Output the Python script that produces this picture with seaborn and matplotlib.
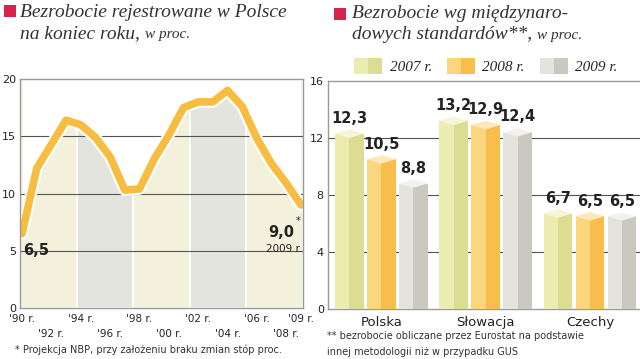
import matplotlib
matplotlib.use('Agg')  # no display
import matplotlib.pyplot as plt
import matplotlib.patheffects as pe
from matplotlib.patches import Rectangle, Polygon, Patch
from matplotlib.legend_handler import HandlerTuple
import seaborn as sns
import pandas as pd

# --- data ---
years = list(range(1990, 2010))
rate_pl = [6.5, 12.2, 14.3, 16.4, 16.0, 14.9, 13.2, 10.3, 10.4, 13.0,
           15.1, 17.5, 18.0, 18.0, 19.0, 17.6, 14.8, 12.6, 10.9, 9.0]
top_row = {1990: "'90 r.", 1994: "'94 r.", 1998: "'98 r.", 2002: "'02 r.",
           2006: "'06 r.", 2009: "'09 r."}
bottom_row = {1992: "'92 r.", 1996: "'96 r.", 2000: "'00 r.", 2004: "'04 r.",
              2008: "'08 r."}

countries = ['Polska', 'Słowacja', 'Czechy']
periods = ['2007 r.', '2008 r.', '2009 r.']
rate_2007 = [12.3, 13.2, 6.7]
rate_2008 = [10.5, 12.9, 6.5]
rate_2009 = [8.8, 12.4, 6.5]

# colours
RED = '#d6244c'
LINE = '#f7bd40'
BEIGE = '#f3f1dc'
GREY = '#e4e4df'
FACE_L = ['#ecebb0', '#fcd67e', '#e4e3dc']
FACE_R = ['#dddc93', '#f8bd4a', '#cac9c0']
FACE_T = ['#f6f5d6', '#fde9b8', '#f2f1ed']
FRAME = '#9a9a9a'
GRID = '#555555'

sns.set_style('white')
plt.rcParams['font.family'] = ['DejaVu Sans']

W, H = 640, 359
fig = plt.figure(figsize=(6.4, 3.59), dpi=100)


def fx(px):
    return px / W


def fy(px):
    return 1 - px / H


# ---------------- left chart ----------------
ax1 = fig.add_axes([fx(20), fy(308), fx(283), (308 - 79) / H])

for i in range(5):
    ax1.add_patch(Rectangle((i * 0.2, 0), 0.2, 1, transform=ax1.transAxes,
                            facecolor=BEIGE if i % 2 == 0 else GREY,
                            edgecolor='white', lw=1.2, zorder=0))
ax1.fill_between(years, rate_pl, 20, color='white', lw=0, zorder=1)
for g in (5, 10, 15):
    ax1.axhline(g, color=GRID, lw=0.8, zorder=2)

sns.lineplot(x=years, y=rate_pl, ax=ax1, color=LINE, lw=5.5, zorder=4)
ln = ax1.lines[-1]
ln.set_solid_joinstyle('round')
ln.set_solid_capstyle('round')
ln.set_path_effects([pe.Stroke(linewidth=8.5, foreground='white'), pe.Normal()])

ax1.set_xlim(1989.86, 2009.14)
ax1.set_ylim(0, 20)
ax1.set_yticks([0, 5, 10, 15, 20])
# top row of year labels on major ticks, bottom row on minor ticks
ax1.set_xticks(list(top_row.keys()))
ax1.set_xticklabels(list(top_row.values()))
ax1.set_xticks(years, minor=True)
ax1.set_xticklabels([bottom_row.get(y, '') for y in years], minor=True)
ax1.tick_params(axis='x', which='major', direction='in', length=3, width=0.6,
                color=FRAME, labelsize=7.5, labelcolor='#222222', pad=4)
ax1.tick_params(axis='x', which='minor', direction='in', length=3, width=0.6,
                color=FRAME, labelsize=7.5, labelcolor='#222222', pad=15)
ax1.tick_params(axis='y', direction='out', length=2, width=0.6, color=FRAME,
                labelsize=8, labelcolor='#222222', pad=1)
ax1.set_xlabel('')
ax1.set_ylabel('')
for s in ax1.spines.values():
    s.set_color(FRAME)
    s.set_linewidth(1)
    s.set_zorder(5)

ax1.text(1990.1, 4.65, '6,5', fontsize=10.5, fontweight='bold', color='#222222',
         ha='left', va='baseline', zorder=6)
ax1.text(2008.55, 6.2, '9,0', fontsize=10.5, fontweight='bold', color='#222222',
         ha='right', va='baseline', zorder=6)
ax1.text(2008.65, 7.3, '*', fontsize=7, color='#222222', ha='left',
         va='baseline', zorder=6)
ax1.text(2009.1, 4.9, '2009 r.', fontsize=7.5, color='#222222', ha='right',
         va='baseline', zorder=6)

# ---------------- right chart ----------------
ax2 = fig.add_axes([fx(328), fy(309), fx(312), (309 - 81) / H])
df = pd.DataFrame({
    'country': countries * 3,
    'period': [periods[0]] * 3 + [periods[1]] * 3 + [periods[2]] * 3,
    'value': rate_2007 + rate_2008 + rate_2009,
})
for g in (4, 8, 12):
    ax2.axhline(g, color=GRID, lw=0.8, zorder=1)

sns.barplot(data=df, x='country', y='value', hue='period', palette=FACE_L,
            width=0.92, gap=0.1, saturation=1, legend=False, ax=ax2,
            linewidth=0, zorder=3)

d = 0.3
for k, cont in enumerate(ax2.containers):
    for p in cont.patches:
        x0, w, h = p.get_x(), p.get_width(), p.get_height()
        xc = x0 + w / 2
        ax2.add_patch(Rectangle((xc, 0), w / 2, h, facecolor=FACE_R[k],
                                lw=0, zorder=3.1))
        ax2.add_patch(Polygon([(x0, h), (xc, h + d), (x0 + w, h), (xc, h - d)],
                              closed=True, facecolor=FACE_T[k], lw=0,
                              zorder=3.2))
        ax2.text(xc, h + 0.55, f'{h:.1f}'.replace('.', ','), fontsize=10.5,
                 fontweight='bold', color='#222222', ha='center',
                 va='bottom', zorder=6)

ax2.set_xlim(-0.51, 2.48)
ax2.set_ylim(0, 16)
ax2.set_yticks([0, 4, 8, 12, 16])
ax2.set_xticks([0.5, 1.5], minor=True)
ax2.tick_params(axis='x', which='major', length=0, labelsize=9.5,
                labelcolor='#222222', pad=5)
ax2.tick_params(axis='x', which='minor', direction='in', length=4, width=0.6,
                color=GRID)
ax2.tick_params(axis='y', direction='out', length=2, width=0.6, color=FRAME,
                labelsize=8, labelcolor='#222222', pad=1)
ax2.set_xlabel('')
ax2.set_ylabel('')
ax2.spines['right'].set_visible(False)
for s in ('left', 'top', 'bottom'):
    ax2.spines[s].set_color(FRAME)
    ax2.spines[s].set_linewidth(1)

handles = [(Patch(facecolor=FACE_L[i], lw=0), Patch(facecolor=FACE_R[i], lw=0))
           for i in range(3)]
fig.legend(handles, periods, handler_map={tuple: HandlerTuple(ndivide=None, pad=0)},
           loc='center', bbox_to_anchor=(fx(486), fy(66)), ncol=3, frameon=False,
           handlelength=1.8, handleheight=1.2, handletextpad=0.5,
           columnspacing=1.0,
           prop={'family': 'Liberation Serif', 'style': 'italic', 'size': 11})

# ---------------- titles & notes ----------------
for (sx, sy) in ((4, 5), (334, 8)):
    fig.add_artist(Rectangle((fx(sx), fy(sy + 12)), fx(12), 12 / H,
                             transform=fig.transFigure, facecolor=RED, lw=0))

title_kw = dict(family='Liberation Serif', style='italic', color='#333333',
                va='baseline')
fig.text(fx(20), fy(17), 'Bezrobocie rejestrowane w Polsce', fontsize=14, **title_kw)
t1 = fig.text(fx(20), fy(38), 'na koniec roku, ', fontsize=14, **title_kw)
fig.text(fx(352), fy(18), 'Bezrobocie wg międzynaro-', fontsize=14, **title_kw)
t2 = fig.text(fx(352), fy(39), 'dowych standardów**, ', fontsize=14, **title_kw)

fig.canvas.draw()
r = fig.canvas.get_renderer()
for t in (t1, t2):
    bb = t.get_window_extent(r)
    x_end = bb.x1 / (fig.dpi * fig.get_figwidth())
    fig.text(x_end, t.get_position()[1], 'w proc.', fontsize=11, **title_kw)

note_kw = dict(fontsize=7, color='#333333', va='baseline')
fig.text(fx(15), fy(353), '* Projekcja NBP, przy założeniu braku zmian stóp proc.', **note_kw)
fig.text(fx(327), fy(339), '** bezrobocie obliczane przez Eurostat na podstawie', **note_kw)
fig.text(fx(327), fy(355), 'innej metodologii niż w przypadku GUS', **note_kw)

fig.savefig('out.png', dpi=100)
